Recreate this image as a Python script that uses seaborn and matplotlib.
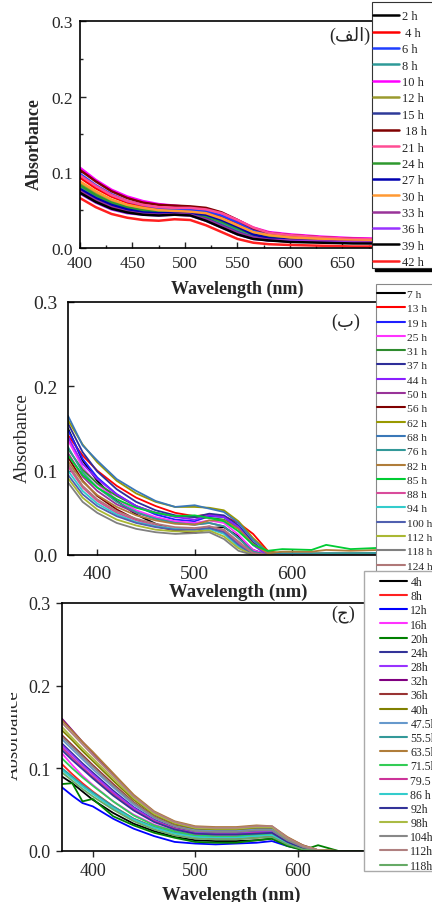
import matplotlib
matplotlib.use("Agg")
import matplotlib.pyplot as plt
import seaborn as sns
from matplotlib.patches import Rectangle
from matplotlib.lines import Line2D
from matplotlib.transforms import Bbox, TransformedBbox
from matplotlib.ticker import MultipleLocator, FixedLocator, FormatStrFormatter

# ---------------- data ----------------
# panel (الف)
WL_A = [400, 415, 430, 445, 460, 475, 490, 505, 520, 535, 550, 565, 580, 600, 630, 660, 700]
LABELS_A = ["2 h", " 4 h", "6 h", "8 h", "10 h", "12 h", "15 h", " 18 h",
            "21 h", "24 h", "27 h", "30 h", "33 h", "36 h", "39 h", "42 h"]
COLORS_A = ["#000000", "#ff0000", "#1f3fff", "#2e9a98", "#ff00ff", "#9a9a2e",
            "#2e3a99", "#800000", "#ff4d94", "#2e992e", "#0000b0", "#ff9933",
            "#993399", "#9933ff", "#000000", "#ff2020"]
ABS_A = [
    [0.074, 0.062, 0.053, 0.048, 0.045, 0.044, 0.045, 0.044, 0.037, 0.028, 0.019, 0.013, 0.010, 0.009, 0.008, 0.007, 0.007],
    [0.093, 0.079, 0.068, 0.060, 0.055, 0.052, 0.051, 0.050, 0.048, 0.042, 0.033, 0.024, 0.018, 0.015, 0.012, 0.010, 0.009],
    [0.098, 0.083, 0.071, 0.062, 0.057, 0.053, 0.051, 0.050, 0.049, 0.043, 0.034, 0.024, 0.018, 0.016, 0.013, 0.011, 0.010],
    [0.080, 0.068, 0.058, 0.052, 0.048, 0.046, 0.046, 0.045, 0.041, 0.033, 0.024, 0.016, 0.013, 0.011, 0.010, 0.009, 0.008],
    [0.106, 0.090, 0.077, 0.068, 0.062, 0.058, 0.056, 0.054, 0.052, 0.046, 0.037, 0.027, 0.021, 0.018, 0.015, 0.013, 0.012],
    [0.086, 0.073, 0.063, 0.056, 0.051, 0.049, 0.048, 0.047, 0.044, 0.037, 0.028, 0.020, 0.016, 0.014, 0.012, 0.010, 0.009],
    [0.076, 0.064, 0.055, 0.049, 0.046, 0.044, 0.045, 0.044, 0.039, 0.030, 0.021, 0.014, 0.011, 0.010, 0.009, 0.008, 0.007],
    [0.103, 0.088, 0.075, 0.066, 0.060, 0.057, 0.056, 0.055, 0.053, 0.047, 0.037, 0.026, 0.020, 0.017, 0.014, 0.012, 0.011],
    [0.096, 0.082, 0.070, 0.062, 0.057, 0.054, 0.053, 0.053, 0.051, 0.046, 0.037, 0.027, 0.020, 0.017, 0.014, 0.012, 0.011],
    [0.083, 0.070, 0.060, 0.054, 0.050, 0.048, 0.047, 0.046, 0.042, 0.035, 0.026, 0.018, 0.014, 0.012, 0.010, 0.009, 0.008],
    [0.078, 0.066, 0.057, 0.051, 0.047, 0.046, 0.047, 0.046, 0.044, 0.037, 0.028, 0.018, 0.013, 0.011, 0.009, 0.008, 0.007],
    [0.088, 0.075, 0.064, 0.057, 0.053, 0.050, 0.049, 0.048, 0.046, 0.039, 0.030, 0.021, 0.017, 0.014, 0.012, 0.010, 0.009],
    [0.075, 0.063, 0.054, 0.048, 0.045, 0.044, 0.045, 0.044, 0.038, 0.029, 0.020, 0.014, 0.011, 0.010, 0.009, 0.008, 0.007],
    [0.072, 0.060, 0.051, 0.046, 0.044, 0.043, 0.044, 0.043, 0.036, 0.027, 0.018, 0.012, 0.010, 0.009, 0.008, 0.007, 0.006],
    [0.073, 0.061, 0.052, 0.047, 0.044, 0.043, 0.044, 0.043, 0.036, 0.027, 0.018, 0.012, 0.010, 0.008, 0.007, 0.006, 0.006],
    [0.066, 0.054, 0.045, 0.040, 0.037, 0.036, 0.038, 0.037, 0.030, 0.021, 0.012, 0.007, 0.005, 0.004, 0.003, 0.002, 0.002],
]

# panel (ب)
WL_B = [370, 385, 400, 420, 440, 460, 480, 500, 515, 530, 545, 560, 575, 590, 620, 635, 660, 720]
LABELS_B = ["7 h", "13 h", "19 h", "25 h", "31 h", "37 h", "44 h", "50 h", "56 h", "62 h",
            "68 h", "76 h", "82 h", "85 h", "88 h", "94 h", "100 h", "112 h", "118 h", "124 h"]
COLORS_B = ["#000000", "#ff0000", "#1f1fff", "#ff33ff", "#2e8b2e", "#2e2e99", "#8a1fff",
            "#993399", "#800000", "#999900", "#3a78b8", "#339999", "#b07d3a", "#00cc33",
            "#d94c9c", "#33cccc", "#5060b0", "#aab833", "#808080", "#b07878"]
ABS_B = [
    [0.150, 0.112, 0.088, 0.064, 0.048, 0.037, 0.029, 0.026, 0.032, 0.033, 0.022, 0.006, 0.000, 0.000, 0.000, 0.000, 0.000, 0.000],
    [0.142, 0.118, 0.100, 0.082, 0.068, 0.058, 0.050, 0.046, 0.048, 0.046, 0.038, 0.025, 0.005, 0.001, 0.001, 0.001, 0.001, 0.001],
    [0.148, 0.114, 0.092, 0.072, 0.058, 0.048, 0.042, 0.040, 0.046, 0.045, 0.032, 0.012, 0.000, 0.000, 0.000, 0.000, 0.000, 0.000],
    [0.136, 0.104, 0.084, 0.066, 0.053, 0.045, 0.040, 0.038, 0.041, 0.038, 0.024, 0.006, 0.000, 0.000, 0.000, 0.000, 0.000, 0.000],
    [0.126, 0.101, 0.085, 0.070, 0.058, 0.050, 0.046, 0.045, 0.044, 0.042, 0.031, 0.013, 0.002, 0.001, 0.001, 0.001, 0.001, 0.001],
    [0.156, 0.122, 0.099, 0.078, 0.063, 0.053, 0.047, 0.045, 0.049, 0.047, 0.035, 0.015, 0.001, 0.000, 0.000, 0.000, 0.000, 0.000],
    [0.140, 0.108, 0.090, 0.072, 0.058, 0.050, 0.045, 0.042, 0.047, 0.045, 0.033, 0.012, 0.000, 0.000, 0.000, 0.000, 0.000, 0.000],
    [0.121, 0.093, 0.076, 0.060, 0.050, 0.043, 0.038, 0.036, 0.038, 0.034, 0.020, 0.004, 0.000, 0.000, 0.000, 0.000, 0.000, 0.000],
    [0.116, 0.088, 0.070, 0.054, 0.042, 0.034, 0.029, 0.027, 0.031, 0.028, 0.015, 0.002, 0.000, 0.000, 0.000, 0.000, 0.000, 0.000],
    [0.160, 0.131, 0.110, 0.088, 0.073, 0.063, 0.057, 0.057, 0.056, 0.053, 0.040, 0.020, 0.004, 0.002, 0.002, 0.002, 0.002, 0.003],
    [0.165, 0.130, 0.112, 0.090, 0.076, 0.064, 0.057, 0.059, 0.055, 0.051, 0.038, 0.018, 0.003, 0.002, 0.002, 0.002, 0.002, 0.002],
    [0.128, 0.098, 0.080, 0.063, 0.051, 0.043, 0.038, 0.036, 0.038, 0.034, 0.020, 0.004, 0.000, 0.001, 0.001, 0.002, 0.002, 0.003],
    [0.111, 0.087, 0.071, 0.057, 0.047, 0.041, 0.037, 0.036, 0.041, 0.041, 0.031, 0.013, 0.002, 0.004, 0.004, 0.006, 0.005, 0.007],
    [0.118, 0.095, 0.080, 0.066, 0.056, 0.050, 0.046, 0.047, 0.044, 0.040, 0.028, 0.012, 0.005, 0.007, 0.006, 0.012, 0.007, 0.010],
    [0.105, 0.080, 0.064, 0.050, 0.041, 0.035, 0.031, 0.030, 0.034, 0.028, 0.014, 0.002, 0.000, 0.000, 0.000, 0.000, 0.000, 0.000],
    [0.100, 0.076, 0.061, 0.048, 0.039, 0.034, 0.031, 0.030, 0.031, 0.025, 0.010, 0.000, 0.000, 0.000, 0.000, 0.000, 0.000, 0.000],
    [0.095, 0.072, 0.058, 0.046, 0.038, 0.033, 0.030, 0.030, 0.032, 0.027, 0.012, 0.000, 0.000, 0.000, 0.000, 0.000, 0.000, 0.000],
    [0.091, 0.068, 0.054, 0.042, 0.035, 0.030, 0.028, 0.028, 0.029, 0.022, 0.008, 0.000, 0.000, 0.000, 0.000, 0.000, 0.000, 0.000],
    [0.086, 0.063, 0.050, 0.038, 0.031, 0.027, 0.025, 0.026, 0.027, 0.019, 0.005, 0.000, 0.000, 0.000, 0.000, 0.000, 0.000, 0.000],
    [0.108, 0.082, 0.066, 0.052, 0.043, 0.037, 0.033, 0.032, 0.034, 0.030, 0.016, 0.002, 0.000, 0.000, 0.000, 0.000, 0.000, 0.000],
]

# panel (ج)
WL_C = [370, 380, 390, 400, 420, 440, 460, 480, 500, 520, 540, 560, 575, 590, 605, 620, 640, 700]
LABELS_C = ["4h", "8h", "12h", "16h", "20h", "24h", "28h", "32h", "36h", "40h", "47.5h",
            "55.5h", "63.5h", "71.5h", "79.5 h", "86 h", "92h", "98h", "104h", "112h", "118h"]
COLORS_C = ["#000000", "#ff2020", "#0000ff", "#ff33ff", "#008000", "#333399", "#9933ff",
            "#800080", "#993333", "#808000", "#6699cc", "#339999", "#b07d3a", "#33cc55",
            "#cc3399", "#33cccc", "#333399", "#aabb44", "#888888", "#b08080", "#66aa66"]
ABS_C = [
    [0.090, 0.082, 0.072, 0.062, 0.046, 0.033, 0.024, 0.017, 0.013, 0.012, 0.012, 0.013, 0.015, 0.007, 0.002, 0.000, 0.000, 0.000],
    [0.105, 0.093, 0.082, 0.072, 0.054, 0.039, 0.029, 0.022, 0.017, 0.015, 0.015, 0.016, 0.018, 0.009, 0.003, 0.000, 0.000, 0.000],
    [0.077, 0.067, 0.058, 0.054, 0.039, 0.027, 0.018, 0.011, 0.009, 0.008, 0.009, 0.010, 0.012, 0.006, 0.002, 0.000, 0.000, 0.000],
    [0.118, 0.104, 0.091, 0.080, 0.060, 0.044, 0.032, 0.024, 0.019, 0.018, 0.018, 0.019, 0.020, 0.010, 0.003, 0.000, 0.000, 0.000],
    [0.081, 0.082, 0.060, 0.063, 0.042, 0.031, 0.022, 0.016, 0.011, 0.010, 0.010, 0.013, 0.015, 0.006, 0.001, 0.007, 0.000, 0.000],
    [0.130, 0.118, 0.106, 0.095, 0.073, 0.053, 0.038, 0.028, 0.023, 0.022, 0.022, 0.024, 0.024, 0.012, 0.004, 0.000, 0.000, 0.000],
    [0.128, 0.116, 0.104, 0.093, 0.071, 0.052, 0.037, 0.027, 0.022, 0.021, 0.021, 0.023, 0.023, 0.011, 0.004, 0.000, 0.000, 0.000],
    [0.160, 0.146, 0.132, 0.119, 0.093, 0.067, 0.047, 0.035, 0.029, 0.028, 0.028, 0.030, 0.029, 0.016, 0.007, 0.001, 0.000, 0.000],
    [0.140, 0.128, 0.116, 0.104, 0.081, 0.059, 0.042, 0.031, 0.026, 0.025, 0.025, 0.027, 0.027, 0.014, 0.005, 0.001, 0.000, 0.000],
    [0.146, 0.134, 0.121, 0.109, 0.085, 0.062, 0.044, 0.033, 0.027, 0.026, 0.026, 0.028, 0.028, 0.015, 0.006, 0.001, 0.000, 0.000],
    [0.135, 0.123, 0.111, 0.099, 0.077, 0.056, 0.040, 0.030, 0.025, 0.024, 0.024, 0.026, 0.026, 0.013, 0.005, 0.000, 0.000, 0.000],
    [0.100, 0.090, 0.080, 0.071, 0.054, 0.039, 0.029, 0.022, 0.018, 0.017, 0.017, 0.019, 0.020, 0.010, 0.003, 0.000, 0.000, 0.000],
    [0.158, 0.145, 0.132, 0.120, 0.094, 0.068, 0.048, 0.036, 0.030, 0.029, 0.029, 0.031, 0.030, 0.017, 0.007, 0.001, 0.000, 0.000],
    [0.112, 0.100, 0.089, 0.079, 0.060, 0.043, 0.031, 0.024, 0.019, 0.018, 0.018, 0.020, 0.021, 0.010, 0.003, 0.000, 0.000, 0.000],
    [0.125, 0.113, 0.101, 0.090, 0.069, 0.050, 0.036, 0.027, 0.021, 0.020, 0.020, 0.022, 0.022, 0.011, 0.004, 0.000, 0.000, 0.000],
    [0.098, 0.088, 0.078, 0.069, 0.052, 0.038, 0.028, 0.021, 0.017, 0.016, 0.016, 0.018, 0.019, 0.009, 0.003, 0.000, 0.000, 0.000],
    [0.122, 0.110, 0.099, 0.088, 0.067, 0.049, 0.035, 0.026, 0.021, 0.020, 0.020, 0.021, 0.022, 0.011, 0.003, 0.000, 0.000, 0.000],
    [0.150, 0.137, 0.124, 0.112, 0.088, 0.064, 0.045, 0.034, 0.028, 0.027, 0.027, 0.029, 0.029, 0.015, 0.006, 0.001, 0.000, 0.000],
    [0.138, 0.126, 0.114, 0.102, 0.079, 0.058, 0.041, 0.030, 0.024, 0.023, 0.023, 0.025, 0.025, 0.013, 0.005, 0.000, 0.000, 0.000],
    [0.155, 0.142, 0.129, 0.116, 0.091, 0.066, 0.047, 0.035, 0.029, 0.028, 0.028, 0.030, 0.030, 0.016, 0.006, 0.001, 0.000, 0.000],
    [0.095, 0.085, 0.075, 0.066, 0.050, 0.036, 0.026, 0.019, 0.015, 0.014, 0.014, 0.016, 0.017, 0.008, 0.002, 0.000, 0.000, 0.000],
]

# panel tags, Arabic letters in display (joined) forms
TAG_A = "(\ufed2\ufedf\ufe8d)"   # (الف)
TAG_B = "(\u0628)"               # (ب)
TAG_C = "(\u062c)"               # (ج)

# ---------------- layout ----------------
W, H = 432, 903
SERIF = ["Liberation Serif", "DejaVu Sans"]

sns.set_style("ticks")
plt.rcParams["font.family"] = SERIF

fig = plt.figure(figsize=(W / 100, H / 100), dpi=100)
fig.patch.set_facecolor("white")


def px_axes(l, t, r, b, z):
    ax = fig.add_axes([l / W, 1 - b / H, (r - l) / W, (b - t) / H])
    ax.set_zorder(z)
    return ax


def fx(x):
    return x / W


def fy(y):
    return 1 - y / H


def draw_panel(ax, wl, labels, colors, values, lw):
    for lab, col, vals in zip(labels, colors, values):
        sns.lineplot(x=wl, y=vals, color=col, lw=lw, ax=ax, sort=False,
                     estimator=None, legend=False)
    ax.set_ylim(0, 0.3)
    ax.yaxis.set_major_locator(MultipleLocator(0.1))
    ax.yaxis.set_major_formatter(FormatStrFormatter("%.1f"))
    for s in ax.spines.values():
        s.set_linewidth(1.2)
        s.set_color("black")


def add_legend(ax, labels, colors, lw, x_handle, y_top, fs, hl, htp, ls):
    handles = [Line2D([], [], color=c, lw=lw) for c in colors]
    leg = ax.legend(handles, labels, loc="upper left",
                    bbox_to_anchor=(fx(x_handle), fy(y_top)),
                    bbox_transform=fig.transFigure, frameon=False,
                    borderpad=0, borderaxespad=0, fontsize=fs,
                    handlelength=hl, handletextpad=htp, labelspacing=ls)
    leg.set_zorder(6)
    return leg


def add_frame(ax, l, t, r, b, ec, lw, shadow=False):
    if shadow:
        ax.add_artist(Rectangle((fx(l + 3), fy(b + 3)), (r - l) / W, (b - t) / H,
                                transform=fig.transFigure, facecolor="black",
                                edgecolor="black", clip_on=False, zorder=5))
    ax.add_artist(Rectangle((fx(l), fy(b)), (r - l) / W, (b - t) / H,
                            transform=fig.transFigure, facecolor="white",
                            edgecolor=ec, lw=lw, clip_on=False, zorder=5.5))


# ---- panel (الف)
ax1 = px_axes(80, 22, 395, 249, 1)
draw_panel(ax1, WL_A, LABELS_A, COLORS_A, ABS_A, 1.8)
ax1.set_xlim(400, 700)
ax1.xaxis.set_major_locator(FixedLocator([400, 450, 500, 550, 600, 650]))
ax1.xaxis.set_minor_locator(MultipleLocator(25))
ax1.yaxis.set_minor_locator(MultipleLocator(0.05))
ax1.tick_params(which="both", direction="in", width=1, labelsize=12.5, pad=5)
ax1.tick_params(which="major", length=4)
ax1.tick_params(which="minor", length=2)
ax1.set_xlabel("Wavelength (nm)", fontsize=13, fontweight="bold")
ax1.set_ylabel("Absorbance", fontsize=13, fontweight="bold")
ax1.xaxis.set_label_coords(0.5, -0.141)
ax1.yaxis.set_label_coords(-0.117, 0.463)
add_frame(ax1, 372, 3, 445, 269, "#333333", 0.8, shadow=True)
add_legend(ax1, LABELS_A, COLORS_A, 1.8, 373, 11.5, 9, 2.1, 0.25, 0.35)
fig.text(fx(350), fy(36), TAG_A, fontsize=13, ha="center", va="center", family=SERIF)

# ---- panel (ب)
ax2 = px_axes(68, 303, 409, 556, 2)
draw_panel(ax2, WL_B, LABELS_B, COLORS_B, ABS_B, 1.3)
ax2.set_xlim(370, 720)
ax2.xaxis.set_major_locator(FixedLocator([400, 500, 600]))
ax2.tick_params(which="major", direction="in", width=1, length=4, labelsize=14, pad=7.5)
ax2.set_xlabel("Wavelength (nm)", fontsize=13.5, fontweight="bold")
ax2.set_ylabel("Absorbance", fontsize=13.5)
ax2.xaxis.set_label_coords(0.5, -0.111)
ax2.yaxis.set_label_coords(-0.109, 0.466)
add_frame(ax2, 376, 285, 445, 600, "#888888", 0.8)
add_legend(ax2, LABELS_B, COLORS_B, 1.5, 377, 290, 8.2, 2.45, 0.18, 0.38)
fig.text(fx(346), fy(322), TAG_B, fontsize=13, ha="center", va="center", family=SERIF)

# ---- panel (ج)
ax3 = px_axes(62, 604, 400, 852, 3)
draw_panel(ax3, WL_C, LABELS_C, COLORS_C, ABS_C, 1.3)
ax3.set_xlim(370, 700)
ax3.xaxis.set_major_locator(FixedLocator([400, 500, 600]))
ax3.tick_params(which="major", direction="out", width=1, length=4, labelsize=13, pad=4)
ax3.set_xlabel("Wavelength (nm)", fontsize=13.5, fontweight="bold")
ax3.set_ylabel("Absorbance", fontsize=13.5)
ax3.xaxis.set_label_coords(0.5, -0.141)
ax3.yaxis.set_label_coords(-0.118, 0.472)
# the left part of this label is cut off in the original
ax3.yaxis.label.set_clip_box(TransformedBbox(Bbox([[11 / W, 0], [1, 1]]), fig.transFigure))
ax3.yaxis.label.set_clip_on(True)
add_frame(ax3, 364, 572, 445, 872, "#aaaaaa", 1.0)
add_legend(ax3, LABELS_C, COLORS_C, 1.5, 380, 577, 8.5, 2.3, 0.27, 0.185)
fig.text(fx(343), fy(614), TAG_C, fontsize=13, ha="center", va="center", family=SERIF)

fig.savefig("out.png", dpi=100)
